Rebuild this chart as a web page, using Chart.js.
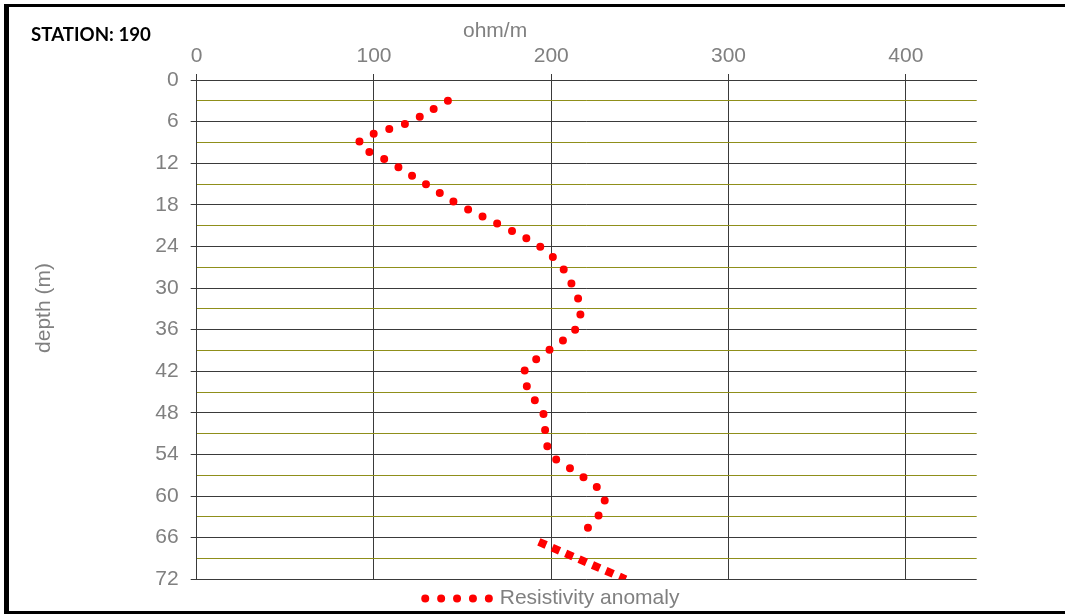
<!DOCTYPE html>
<html>
<head>
<meta charset="utf-8">
<title>STATION: 190</title>
<script src="https://cdn.jsdelivr.net/npm/chart.js@4.4.1/dist/chart.umd.min.js"></script>
<style>
  html, body { margin: 0; padding: 0; background: #fff; }
  canvas { display: block; }
</style>
</head>
<body>
<canvas id="chart" width="1065" height="614"></canvas>
<script>
// Labels
const stationLabel = 'STATION: 190';
const seriesLabel = 'Resistivity anomaly';
const xTitle = 'ohm/m';
const yTitle = 'depth (m)';

// Resistivity profile, sampled every 3 m of depth
const depths = [3, 6, 9, 12, 15, 18, 21, 24, 27, 30, 33, 36, 39, 42, 45, 48, 51, 54, 57, 60, 63, 66];
const resistivity = [141.7, 120.5, 91.5, 110.2, 129.1, 148.1, 171.9, 193.5, 206.1, 212.5, 216.5, 213.5,
                     198.5, 184.8, 187.8, 195.4, 196.8, 199.8, 216.7, 229.8, 226.2, 214.5];

// Bottom end of the profile
const tailDepths = [66.6, 72];
const tailResistivity = [193, 242];

// Axis ticks
const resistivityTicks = [0, 100, 200, 300, 400];
const depthTicks = [0, 6, 12, 18, 24, 30, 36, 42, 48, 54, 60, 66, 72];

const RED = '#ff0000';
const GREY_TEXT = '#808080';
const MAJOR_GRID = '#3a3a3a';
const MINOR_GRID = '#8f8f1a';

Chart.defaults.font.family = '"Liberation Sans", Arial, sans-serif';
Chart.defaults.font.size = 21;
Chart.defaults.color = GREY_TEXT;

const toPoints = (xs, ys) => xs.map((x, i) => ({ x, y: ys[i] }));

// Frame, station caption and axis titles
const decorations = {
  id: 'decorations',
  afterDraw(chart) {
    const { ctx } = chart;
    ctx.save();
    ctx.fillStyle = '#000';
    ctx.fillRect(4, 4, 5, 610);
    ctx.fillRect(4, 4, 1061, 3);
    ctx.fillRect(4, 611, 1061, 3);

    ctx.textBaseline = 'alphabetic';
    ctx.textAlign = 'left';
    ctx.font = 'bold 18.7px Lato, "Open Sans", sans-serif';
    ctx.fillText(stationLabel, 31, 40.5);

    ctx.fillStyle = GREY_TEXT;
    ctx.font = '21px "Liberation Sans", Arial, sans-serif';
    ctx.fillText(xTitle, 463, 36.5);

    ctx.translate(50, 308);
    ctx.rotate(-Math.PI / 2);
    ctx.textAlign = 'center';
    ctx.fillText(yTitle, 0, 0);
    ctx.restore();
  }
};

new Chart(document.getElementById('chart'), {
  type: 'line',
  data: {
    datasets: [
      {
        label: seriesLabel,
        data: toPoints(resistivity, depths),
        borderColor: RED,
        borderWidth: 8,
        borderDash: [0, 16.3],
        borderCapStyle: 'round',
        borderJoinStyle: 'round',
        pointRadius: 0,
        tension: 0.35,
        fill: false
      },
      {
        label: seriesLabel,
        data: toPoints(tailResistivity, tailDepths),
        borderColor: RED,
        borderWidth: 8,
        borderDash: [8, 6.6],
        borderCapStyle: 'butt',
        pointRadius: 0,
        tension: 0,
        fill: false
      }
    ]
  },
  options: {
    responsive: false,
    animation: false,
    devicePixelRatio: 1,
    layout: { padding: { left: 128, right: 88.3, top: 10, bottom: -5 } },
    scales: {
      x: {
        type: 'linear',
        position: 'top',
        min: 0,
        max: 440,
        afterFit(scale) { scale.height = 70; },
        ticks: {
          stepSize: 100,
          includeBounds: false,
          padding: 5,
          callback: v => (resistivityTicks.includes(v) ? String(v) : '')
        },
        grid: { color: MAJOR_GRID, tickColor: MAJOR_GRID, tickLength: 6, lineWidth: 1 },
        border: { color: MAJOR_GRID }
      },
      y: {
        type: 'linear',
        reverse: true,
        min: 0,
        max: 72,
        afterFit(scale) { scale.width = 68.7; },
        ticks: {
          stepSize: 3,
          autoSkip: false,
          padding: 12,
          callback: v => (depthTicks.includes(v) ? String(v) : '')
        },
        grid: {
          color: c => (depthTicks.includes(c.tick.value) ? MAJOR_GRID : MINOR_GRID),
          tickColor: c => (depthTicks.includes(c.tick.value) ? MAJOR_GRID : 'rgba(0,0,0,0)'),
          tickLength: 6,
          lineWidth: 1
        },
        border: { color: MAJOR_GRID }
      }
    },
    plugins: {
      title: { display: false },
      tooltip: { enabled: false },
      legend: {
        position: 'bottom',
        align: 'center',
        labels: {
          usePointStyle: true,
          pointStyleWidth: 64,
          padding: 8.7,
          color: GREY_TEXT,
          font: { size: 21 },
          generateLabels: chart => [{
            text: chart.data.datasets[0].label,
            fillStyle: RED,
            strokeStyle: RED,
            lineWidth: 8,
            lineDash: [0, 15.9],
            lineCap: 'round',
            pointStyle: 'line',
            fontColor: GREY_TEXT,
            hidden: false,
            datasetIndex: 0
          }]
        }
      }
    }
  },
  plugins: [decorations]
});
</script>
</body>
</html>
